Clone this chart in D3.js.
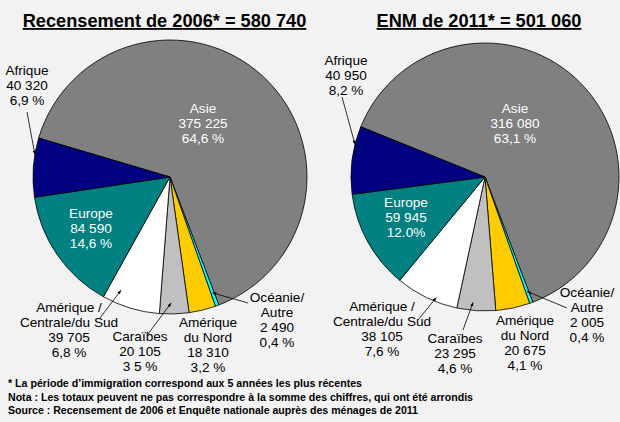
<!DOCTYPE html>
<html>
<head>
<meta charset="utf-8">
<script src="https://cdn.jsdelivr.net/npm/d3@7"></script>
<style>
  body { margin: 0; background: #f2f2f2; }
  svg { display: block; font-family: "Liberation Sans", Arial, sans-serif; }
</style>
</head>
<body>
<div id="chart"></div>
<script>
// categories in drawing order (clockwise, starting with Asie)
const categories = ["Asie", "Océanie", "AmNord", "Caraibes", "AmCS", "Europe", "Afrique"];
const labelNames = {
  Asie: ["Asie"],
  Océanie: ["Océanie/", "Autre"],
  AmNord: ["Amérique", "du Nord"],
  Caraibes: ["Caraïbes"],
  AmCS: ["Amérique /", "Centrale/du Sud"],
  Europe: ["Europe"],
  Afrique: ["Afrique"]
};
const colors = ["#808080", "#00ffff", "#ffcc00", "#c0c0c0", "#ffffff", "#008080", "#000080"];

const titles = ["Recensement de 2006* = 580 740", "ENM de 2011* = 501 060"];
const values2006 = [375225, 2490, 18310, 20105, 39705, 84590, 40320];
const values2011 = [316080, 2005, 20675, 23295, 38105, 59945, 40950];
const pct2006 = ["64,6 %", "0,4 %", "3,2 %", "3 5 %", "6,8 %", "14,6 %", "6,9 %"];
const pct2011 = ["63,1 %", "0,4 %", "4,1 %", "4,6 %", "7,6 %", "12.0%", "8,2 %"];

const notes = [
  "* La période d’immigration correspond aux 5 années les plus récentes",
  "Nota : Les totaux peuvent ne pas correspondre à la somme des chiffres, qui ont été arrondis",
  "Source : Recensement de 2006 et Enquête nationale auprès des ménages de 2011"
];
const noteWidths = [354, 465, 410];

const width = 620;
const height = 422;

const fr = d3.formatLocale({ decimal: ",", thousands: " ", grouping: [3], currency: ["", ""] });
const fmt = fr.format(",d");

const svg = d3
  .select("#chart")
  .append("svg")
  .attr("width", width)
  .attr("height", height);

svg.append("rect").attr("width", width).attr("height", height).attr("fill", "#f2f2f2");

svg
  .append("defs")
  .append("marker")
  .attr("id", "arrow")
  .attr("viewBox", "0 0 10 10")
  .attr("refX", 10)
  .attr("refY", 5)
  .attr("markerWidth", 5)
  .attr("markerHeight", 5)
  .attr("orient", "auto")
  .append("path")
  .attr("d", "M0,1 L10,5 L0,9 Z")
  .attr("fill", "#000");

// layout of each pie: label anchor (dx, dy of first baseline), leader line start and tip
const pies = [
  {
    values: values2006, pct: pct2006, title: titles[0],
    cx: 170, cy: 177, r: 137, start: -73.5, titleX: 164.5,
    labels: {
      Asie: { dx: 33, dy: -64, fill: "#fff" },
      Europe: { dx: -79, dy: 41, fill: "#fff" },
      Afrique: { dx: -143, dy: -102, from: [-143, -65], t: 0.72, k: 1.0 },
      AmCS: { dx: -101, dy: 135, from: [-70, 141], t: 0.77, k: 0.9 },
      Caraibes: { dx: -30, dy: 164, from: [-22, 157], t: 0.6, k: 0.92 },
      AmNord: { dx: 38, dy: 150 },
      Océanie: { dx: 107, dy: 125, from: [78, 126], t: 0.5, k: 0.9 }
    }
  },
  {
    values: values2011, pct: pct2011, title: titles[1],
    cx: 485, cy: 177, r: 134, start: -68, titleX: 479,
    labels: {
      Asie: { dx: 30, dy: -64, fill: "#fff" },
      Europe: { dx: -79, dy: 30, fill: "#fff" },
      Afrique: { dx: -139, dy: -112, from: [-143, -80], t: 0.73, k: 1.0 },
      AmCS: { dx: -103, dy: 134, from: [-67, 143], t: 0.36, k: 0.97 },
      Caraibes: { dx: -30, dy: 166, from: [-22, 153], t: 0.6, k: 0.94 },
      AmNord: { dx: 40, dy: 148 },
      Océanie: { dx: 102, dy: 120, from: [82, 131], t: 0.5, k: 0.91 }
    }
  }
];

const colorScale = d3.scaleOrdinal().domain(categories).range(colors);

pies.forEach((p) => {
  const data = categories.map((c, i) => ({ cat: c, value: p.values[i], pct: p.pct[i] }));
  const rad = (p.start * Math.PI) / 180;
  const pie = d3
    .pie()
    .sort(null)
    .value((d) => d.value)
    .startAngle(rad)
    .endAngle(rad + 2 * Math.PI);
  const arcs = pie(data);
  const arc = d3.arc().innerRadius(0).outerRadius(p.r);

  const g = svg.append("g").attr("transform", `translate(${p.cx},${p.cy})`);

  g.selectAll("path")
    .data(arcs)
    .join("path")
    .attr("d", arc)
    .attr("fill", (d) => colorScale(d.data.cat))
    .attr("stroke", "#000")
    .attr("stroke-width", 0.8)
    .attr("stroke-linejoin", "round");

  // leader lines
  arcs.forEach((a) => {
    const l = p.labels[a.data.cat];
    if (!l.from) return;
    const ang = a.startAngle + l.t * (a.endAngle - a.startAngle);
    const tip = d3.pointRadial(ang, l.k * p.r);
    g.append("line")
      .attr("x1", l.from[0])
      .attr("y1", l.from[1])
      .attr("x2", tip[0])
      .attr("y2", tip[1])
      .attr("stroke", "#000")
      .attr("stroke-width", 0.8)
      .attr("marker-end", "url(#arrow)");
  });

  // labels
  arcs.forEach((a) => {
    const l = p.labels[a.data.cat];
    const lines = labelNames[a.data.cat].concat([fmt(a.data.value), a.data.pct]);
    const t = g
      .append("text")
      .attr("x", l.dx)
      .attr("y", l.dy)
      .attr("text-anchor", "middle")
      .attr("font-size", 13.6)
      .attr("fill", l.fill || "#000");
    lines.forEach((s, i) => {
      t.append("tspan").attr("x", l.dx).attr("dy", i === 0 ? 0 : 15).text(s);
    });
  });

  svg
    .append("text")
    .attr("x", p.titleX)
    .attr("y", 27)
    .attr("text-anchor", "middle")
    .attr("font-size", 18.2)
    .attr("font-weight", 700)
    .style("text-decoration", "underline")
    .text(p.title);
});

svg
  .append("g")
  .selectAll("text")
  .data(notes)
  .join("text")
  .attr("x", 8)
  .attr("y", (d, i) => 387 + i * 13.5)
  .attr("font-size", 11)
  .attr("font-weight", 700)
  .attr("textLength", (d, i) => noteWidths[i])
  .attr("lengthAdjust", "spacingAndGlyphs")
  .text((d) => d);
</script>
</body>
</html>
